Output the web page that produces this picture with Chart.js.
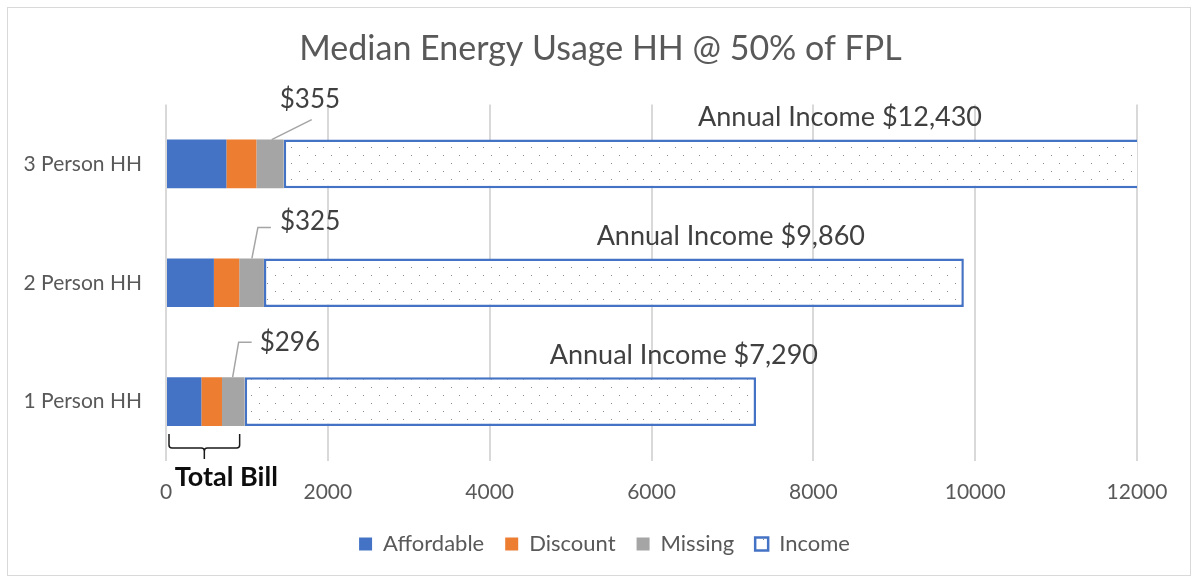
<!DOCTYPE html>
<html>
<head>
<meta charset="utf-8">
<script src="https://cdn.jsdelivr.net/npm/chart.js@4.4.1/dist/chart.umd.min.js"></script>
<style>
  html, body { margin: 0; padding: 0; background: #fff; }
  #wrap { width: 1195px; height: 580px; }
</style>
</head>
<body>
<div id="wrap"><canvas id="energyChart" width="1195" height="580"></canvas></div>
<script>
'use strict';

const FONT = 'Lato, "Open Sans", sans-serif';
const chartTitle = 'Median Energy Usage HH @ 50% of FPL';

// top row first, as in the picture
const categories = ['3 Person HH', '2 Person HH', '1 Person HH'];
const affordable = [746, 592, 437];
const discount = [371, 313, 255];
const missing = [338, 305, 280];
const incomeRest = [10975, 8650, 6320];
const annualIncome = ['$12,430', '$9,860', '$7,290'];
const totalBill = ['$355', '$325', '$296'];
const xMin = 0;
const xMax = 12000;
const xStep = 2000;

function makeDots() {
  const tile = document.createElement('canvas');
  tile.width = 16;
  tile.height = 16;
  const t = tile.getContext('2d');
  t.fillStyle = '#ffffff';
  t.fillRect(0, 0, 16, 16);
  t.fillStyle = '#8c8c8c';
  t.fillRect(3, 3, 1, 1);
  t.fillRect(11, 11, 1, 1);
  return t.createPattern(tile, 'repeat');
}

// where the "Annual Income" labels sit along the x axis
const incomeLabelAt = [8330, 6980, 6400];

const overlay = {
  id: 'overlay',
  beforeDraw(chart) {
    const ctx = chart.ctx;
    ctx.save();
    ctx.strokeStyle = '#d9d9d9';
    ctx.lineWidth = 1;
    ctx.strokeRect(7.5, 7.5, chart.width - 12, chart.height - 12);

    ctx.fillStyle = '#595959';
    ctx.font = '34px ' + FONT;
    ctx.textAlign = 'center';
    ctx.textBaseline = 'middle';
    ctx.fillText(chartTitle, chart.width / 2 + 3, 49);
    ctx.restore();
  },
  afterDatasetsDraw(chart) {
    const ctx = chart.ctx;
    const xScale = chart.scales.x;
    const grayBars = chart.getDatasetMeta(2).data;
    const baseBars = chart.getDatasetMeta(0).data;

    ctx.save();
    ctx.textBaseline = 'middle';

    grayBars.forEach((bar, i) => {
      const top = bar.y - bar.height / 2;
      const end = bar.x;

      // leader lines to the bill labels
      ctx.strokeStyle = '#a5a5a5';
      ctx.lineWidth = 1.5;
      ctx.beginPath();
      if (i === 0) {
        ctx.moveTo(end - 12, top);
        ctx.lineTo(end + 28, top - 20);
      } else {
        const up = i === 1 ? 31 : 35;
        ctx.moveTo(end - 12, top);
        ctx.lineTo(end - 6, top - up);
        ctx.lineTo(end + 7, top - up);
      }
      ctx.stroke();

      ctx.fillStyle = '#404040';
      ctx.font = '26px ' + FONT;
      ctx.textAlign = 'left';
      if (i === 0) {
        ctx.fillText(totalBill[i], end - 4, top - 40);
      } else if (i === 1) {
        ctx.fillText(totalBill[i], end + 16, top - 37);
      } else {
        ctx.fillText(totalBill[i], end + 15, top - 35);
      }

      ctx.font = '27px ' + FONT;
      ctx.textAlign = 'center';
      ctx.fillText('Annual Income ' + annualIncome[i], xScale.getPixelForValue(incomeLabelAt[i]), top - 22);
    });

    // bracket under the bottom bar
    const last = grayBars.length - 1;
    const gb = grayBars[last];
    const left = baseBars[last].base + 2;
    const right = gb.x - 5;
    const bottom = gb.y + gb.height / 2;
    const mid = (left + right) / 2;
    const y1 = bottom + 8;
    const y2 = bottom + 22;
    ctx.strokeStyle = '#1a1a1a';
    ctx.lineWidth = 1.5;
    ctx.beginPath();
    ctx.moveTo(left, y1);
    ctx.lineTo(left, y2 - 3);
    ctx.quadraticCurveTo(left, y2, left + 3, y2);
    ctx.lineTo(mid - 3, y2);
    ctx.quadraticCurveTo(mid, y2, mid, y2 + 3);
    ctx.lineTo(mid, y2 + 11);
    ctx.moveTo(mid, y2 + 3);
    ctx.quadraticCurveTo(mid, y2, mid + 3, y2);
    ctx.lineTo(right - 3, y2);
    ctx.quadraticCurveTo(right, y2, right, y2 - 3);
    ctx.lineTo(right, y1);
    ctx.stroke();

    ctx.fillStyle = '#0d0d0d';
    ctx.font = 'bold 27px ' + FONT;
    ctx.textAlign = 'center';
    ctx.fillText('Total Bill', mid + 22, bottom + 51);

    ctx.restore();
  }
};

const dots = makeDots();
const ctx = document.getElementById('energyChart').getContext('2d');

const energyChart = new Chart(ctx, {
  type: 'bar',
  data: {
    labels: categories,
    datasets: [{
      label: 'Affordable',
      data: affordable,
      backgroundColor: '#4472C4'
    }, {
      label: 'Discount',
      data: discount,
      backgroundColor: '#ED7D31'
    }, {
      label: 'Missing',
      data: missing,
      backgroundColor: '#A5A5A5'
    }, {
      label: 'Income',
      data: incomeRest,
      backgroundColor: dots,
      borderColor: '#4472C4',
      borderWidth: 2.5,
      borderSkipped: false,
      clip: 0
    }]
  },
  options: {
    indexAxis: 'y',
    responsive: false,
    animation: false,
    barPercentage: 0.41,
    categoryPercentage: 1,
    layout: {
      padding: { top: 104.5, right: 0, bottom: 15, left: 14 }
    },
    plugins: {
      title: { display: false },
      legend: {
        position: 'bottom',
        labels: {
          color: '#595959',
          font: { family: FONT, size: 22 },
          boxWidth: 13,
          boxHeight: 13,
          padding: 21
        }
      },
      tooltip: { enabled: false }
    },
    scales: {
      x: {
        stacked: true,
        min: xMin,
        max: xMax,
        ticks: {
          stepSize: xStep,
          color: '#595959',
          font: { family: FONT, size: 21 },
          padding: 19,
          maxRotation: 0,
          callback: (value) => String(value)
        },
        grid: { color: '#d9d9d9', lineWidth: 2, drawTicks: false },
        border: { display: false },
        afterFit(scale) {
          scale.height = 51;
          scale.paddingRight = 58;
        }
      },
      y: {
        stacked: true,
        ticks: {
          color: '#595959',
          font: { family: FONT, size: 21 },
          padding: 16
        },
        grid: { display: false },
        border: { display: false },
        afterFit(scale) {
          scale.width = 152;
        }
      }
    }
  },
  plugins: [overlay]
});
</script>
</body>
</html>
